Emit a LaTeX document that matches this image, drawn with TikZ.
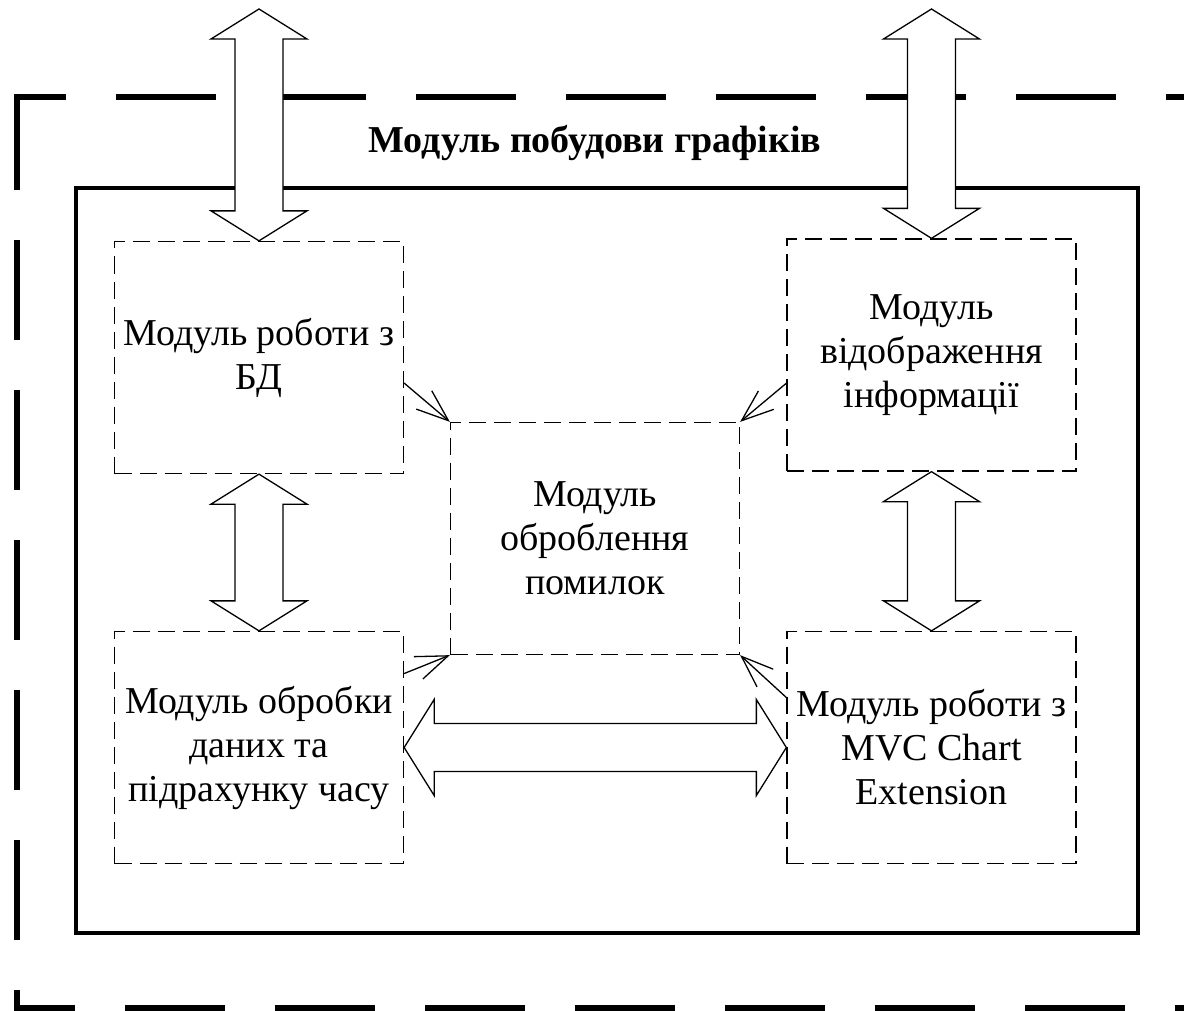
\documentclass[tikz,border=0pt]{standalone}
\usepackage{fontspec}
\setmainfont{Liberation Serif}
\usetikzlibrary{arrows.meta,calc}
\tikzset{
    outer-frame/.style = {line width=3pt, dash pattern=on 50pt off 25pt},
    inner-frame/.style = {draw, line width=2pt},
    module-box/.style = {draw, line width=0.65pt, dash pattern=on 8.5pt off 4pt, rectangle, minimum width=144.5pt, minimum height=116pt, inner sep=0pt, align=center, font=\fontsize{19}{22}\selectfont},
    module-title/.style = {font=\fontsize{19}{22}\selectfont\bfseries},
    thin-arrow/.style = {line width=0.65pt, -{Straight Barb[length=16pt,width=12pt]}},
    block-arrow/.style = {draw, fill=white, solid, line width=0.65pt, line join=miter},
    v-block/.style = {block-arrow, to path={let \p1=(\tikztostart), \p2=(\tikztotarget) in
        (\x1,\y1) -- (\x1+24pt,\y1-15pt) -- (\x1+12pt,\y1-15pt) -- (\x1+12pt,\y2+15pt) -- (\x1+24pt,\y2+15pt) -- (\x1,\y2)
        -- (\x1-24pt,\y2+15pt) -- (\x1-12pt,\y2+15pt) -- (\x1-12pt,\y1-15pt) -- (\x1-24pt,\y1-15pt) -- cycle}},
    h-block/.style = {block-arrow, to path={let \p1=(\tikztostart), \p2=(\tikztotarget) in
        (\x1,\y1) -- (\x1+15pt,\y1+24pt) -- (\x1+15pt,\y1+12pt) -- (\x2-15pt,\y1+12pt) -- (\x2-15pt,\y1+24pt) -- (\x2,\y1)
        -- (\x2-15pt,\y1-24pt) -- (\x2-15pt,\y1-12pt) -- (\x1+15pt,\y1-12pt) -- (\x1+15pt,\y1-24pt) -- cycle}},
}

\begin{document}
\begin{tikzpicture}[x=0.5pt, y=-0.5pt]
\useasboundingbox (0,0) rectangle (1184,1011);
\draw[outer-frame, dash phase=24pt] (14,97) -- (1250,97);
\draw[outer-frame, dash phase=2pt] (17,94) -- (17,1011);
\draw[outer-frame, dash phase=19.5pt] (14,1008) -- (1250,1008);
\draw[inner-frame] (76,188) rectangle (1138,933);
\node[module-title] (title) at (595,143) {Модуль побудови графіків};
\node[module-box] (dbmod) at (259,357.5) {Модуль роботи з\\БД};
\node[module-box] (infomod) at (931.5,355) {Модуль\\відображення\\інформації};
\node[module-box] (errmod) at (595,538.5) {Модуль\\оброблення\\помилок};
\node[module-box] (datamod) at (259,747.5) {Модуль обробки\\даних та\\підрахунку часу};
\node[module-box] (mvcmod) at (931.5,747.5) {Модуль роботи з\\MVC Chart\\Extension};
\coordinate (db-in) at (259,9);
\coordinate (info-in) at (931.5,9);
\draw[v-block] (db-in) to (dbmod.north);
\draw[v-block] (info-in) to (infomod.north);
\draw[v-block] (dbmod.south) to (datamod.north);
\draw[v-block] (infomod.south) to (mvcmod.north);
\draw[h-block] (datamod.east) to (mvcmod.west);
\draw[thin-arrow] (dbmod.-10) -- (errmod.north west);
\draw[thin-arrow] (infomod.191) -- (errmod.north east);
\draw[thin-arrow] (datamod.27) -- (errmod.south west);
\draw[thin-arrow] (mvcmod.161) -- (errmod.south east);
\end{tikzpicture}
\end{document}
